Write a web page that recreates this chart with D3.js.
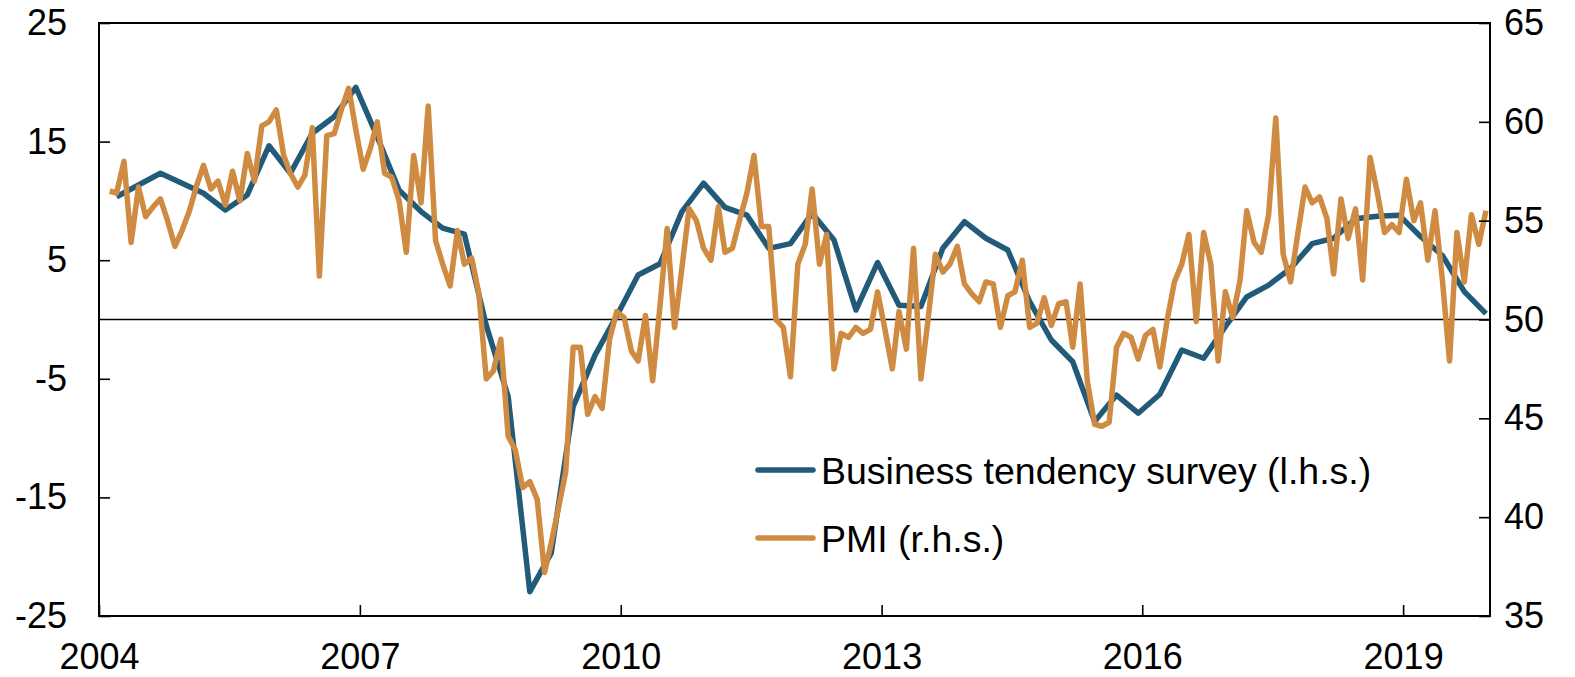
<!DOCTYPE html>
<html>
<head>
<meta charset="utf-8">
<style>
  body { margin: 0; background: #fff; }
  svg text { font-family: "Liberation Sans", Arial, sans-serif; fill: #000; }
</style>
</head>
<body>
<svg></svg>
<script src="https://d3js.org/d3.v7.min.js"></script>
<script>
  const width = 1575;
  const height = 677;

  // business tendency survey, quarterly, first value Q1 2004 (l.h.s.)
  const btsStart = [2004, 2];
  const btsValues = [10.35, 11.34, 12.33, 11.48, 10.64, 9.23, 10.5, 14.65, 12.33, 15.7, 17.1, 19.58,
    15.4, 10.9, 9.1, 7.7, 7.2, -0.5, -6.5, -22.95, -19.7, -7.35, -3.0, 0.3,
    3.75, 4.7, 9.1, 11.5, 9.46, 8.8, 6.0, 6.4, 8.95, 6.7, 0.8, 4.8,
    1.2, 1.1, 6.0, 8.25, 6.85, 5.86, 1.5, -1.73, -3.56, -8.6, -6.37, -7.9,
    -6.3, -2.57, -3.27, -0.6, 1.9, 2.9, 4.3, 6.4, 6.85, 8.5, 8.7, 8.8,
    7.0, 5.4, 2.35, 0.5];

  // PMI, monthly, first value Feb 2004 (r.h.s.)
  const pmiStart = [2004, 1];
  const pmiValues = [56.5, 56.4, 58.0, 53.9, 56.7, 55.2, 55.7, 56.1, 55.0, 53.7, 54.5,
    55.5, 56.8, 57.8, 56.6, 57.0, 55.8, 57.5, 56.0, 58.4, 57.0, 59.8, 60.0,
    60.6, 58.3, 57.4, 56.7, 57.3, 59.7, 52.2, 59.3, 59.4, 60.6, 61.7, 59.6,
    57.6, 58.7, 60.0, 57.4, 57.2, 56.0, 53.4, 58.3, 55.9, 60.8, 54.0, 52.8,
    51.7, 54.5, 52.8, 53.1, 51.3, 47.0, 47.4, 49.0, 44.1, 43.4, 41.5, 41.8,
    40.9, 37.2, 38.7, 40.5, 42.3, 48.6, 48.6, 45.2, 46.1, 45.5, 49.0, 50.4,
    50.1, 48.4, 47.9, 50.2, 46.9, 50.7, 54.6, 49.6, 52.6, 55.6, 55.0, 53.6,
    53.0, 55.7, 53.4, 53.6, 55.0, 56.4, 58.3, 54.7, 54.7, 50.0, 49.6, 47.1,
    52.8, 53.8, 56.6, 52.8, 54.3, 47.5, 49.3, 49.1, 49.6, 49.3, 49.5, 51.4,
    49.5, 47.5, 50.4, 48.5, 53.6, 47.0, 50.0, 53.3, 52.4, 52.8, 53.7, 51.8,
    51.3, 50.9, 51.9, 51.8, 49.6, 51.2, 51.4, 53.0, 49.6, 49.8, 51.1, 49.7,
    50.8, 50.9, 48.6, 51.8, 46.9, 44.7, 44.6, 44.8, 48.6, 49.3, 49.1, 48.0,
    49.2, 49.5, 47.6, 50.0, 51.9, 52.8, 54.3, 49.9, 54.4, 52.8, 47.9, 51.4,
    50.1, 52.0, 55.5, 53.9, 53.4, 55.3, 60.2, 53.3, 51.9, 54.3, 56.7, 55.9,
    56.2, 55.1, 52.3, 56.1, 54.1, 55.6, 52.0, 58.2, 56.4, 54.4, 54.8, 54.4,
    57.1, 55.0, 55.9, 53.0, 55.5, 52.0, 47.9, 54.4, 51.9, 55.3, 53.8, 55.5];

  const yearTicks = [2004, 2007, 2010, 2013, 2016, 2019];
  const leftTicks = [-25, -15, -5, 5, 15, 25];
  const rightTicks = [35, 40, 45, 50, 55, 60, 65];
  const seriesNames = ["Business tendency survey (l.h.s.)", "PMI (r.h.s.)"];
  const colors = ["#225a79", "#cf8b41"];

  const margin = {left: 99, right: 85, top: 23, bottom: 61};
  const plotW = width - margin.left - margin.right;
  const plotH = height - margin.top - margin.bottom;

  const svg = d3.select("svg").attr("width", width).attr("height", height);
  const g = svg.append("g").attr("transform", `translate(${margin.left},${margin.top})`);

  const x = d3.scaleTime()
    .domain([new Date(2004, 0, 1), new Date(2020, 0, 1)])
    .range([0, plotW]);
  const yL = d3.scaleLinear().domain([-25, 25]).range([plotH, 0]);
  const yR = d3.scaleLinear().domain([35, 65]).range([plotH, 0]);

  // points sit in the middle of their month
  const bts = btsValues.map((v, i) => ({date: new Date(btsStart[0], btsStart[1] + 3 * i, 15), value: v}));
  const pmi = pmiValues.map((v, i) => ({date: new Date(pmiStart[0], pmiStart[1] + i, 15), value: v}));

  const fontSize = 36;

  // zero line
  g.append("line")
    .attr("x1", 0).attr("x2", plotW)
    .attr("y1", yL(0)).attr("y2", yL(0))
    .attr("stroke", "#000").attr("stroke-width", 1.6);

  const lineL = d3.line().x(d => x(d.date)).y(d => yL(d.value));
  const lineR = d3.line().x(d => x(d.date)).y(d => yR(d.value));

  g.append("path").datum(bts)
    .attr("d", lineL)
    .attr("fill", "none").attr("stroke", colors[0])
    .attr("stroke-width", 5.5).attr("stroke-linejoin", "round");

  g.append("path").datum(pmi)
    .attr("d", lineR)
    .attr("fill", "none").attr("stroke", colors[1])
    .attr("stroke-width", 5.5).attr("stroke-linejoin", "round");

  // frame
  g.append("rect")
    .attr("width", plotW).attr("height", plotH)
    .attr("fill", "none").attr("stroke", "#000").attr("stroke-width", 2);

  const plain = d => String(d); // hyphen minus like the original

  const left = g.append("g")
    .call(d3.axisLeft(yL).tickValues(leftTicks).tickFormat(plain)
      .tickSize(-11).tickSizeOuter(0).tickPadding(32));
  const right = g.append("g").attr("transform", `translate(${plotW},0)`)
    .call(d3.axisRight(yR).tickValues(rightTicks).tickFormat(plain)
      .tickSize(-11).tickSizeOuter(0).tickPadding(14));
  const bottom = g.append("g").attr("transform", `translate(0,${plotH})`)
    .call(d3.axisBottom(x).tickValues(yearTicks.map(yr => new Date(yr, 0, 1)))
      .tickFormat(d3.timeFormat("%Y")).tickSize(-11).tickSizeOuter(0).tickPadding(27));

  [left, right, bottom].forEach(ax => {
    ax.select(".domain").remove();
    ax.selectAll(".tick line").attr("stroke", "#000").attr("stroke-width", 1.6);
    ax.selectAll("text").attr("font-size", fontSize).attr("font-family", null);
  });

  // legend
  const legend = g.append("g").attr("transform", "translate(659,447)");
  seriesNames.forEach((name, i) => {
    const row = legend.append("g").attr("transform", `translate(0,${i * 68})`);
    row.append("line")
      .attr("x1", 0).attr("x2", 55)
      .attr("stroke", colors[i]).attr("stroke-width", 5.5).attr("stroke-linecap", "round");
    row.append("text")
      .attr("x", 63).attr("dy", "0.36em")
      .attr("font-size", 37.5)
      .text(name);
  });
</script>
</body>
</html>
